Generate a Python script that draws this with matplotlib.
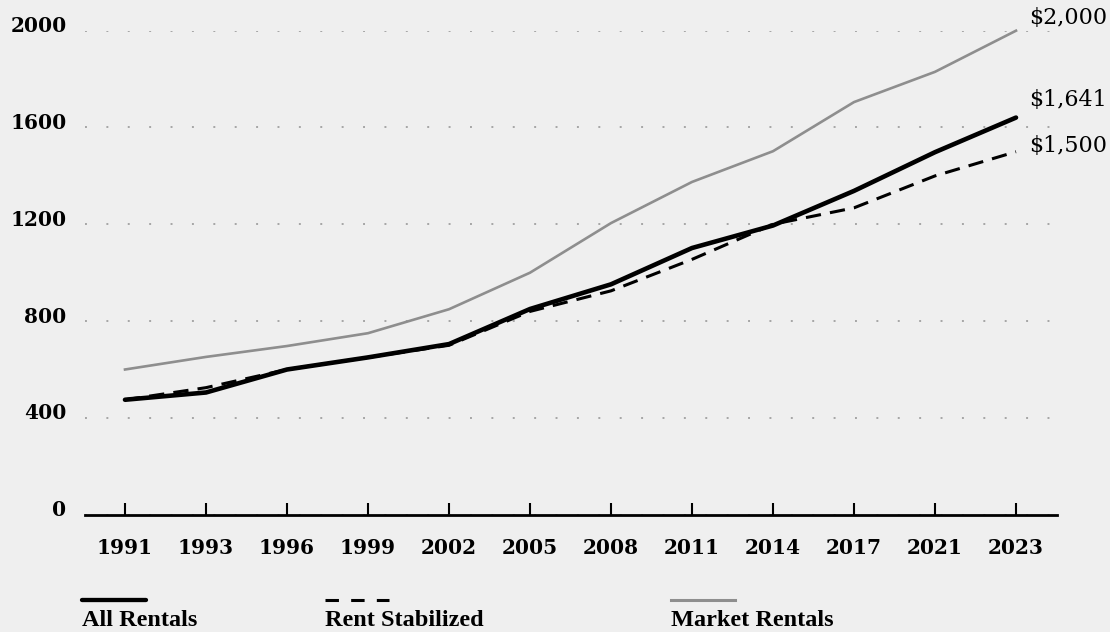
import numpy as np
import matplotlib.pyplot as plt
from matplotlib.lines import Line2D
from matplotlib.transforms import ScaledTranslation

years = ["1991", "1993", "1996", "1999", "2002", "2005", "2008", "2011", "2014", "2017", "2021", "2023"]
all_rentals = [475, 505, 600, 650, 705, 850, 952, 1102, 1195, 1338, 1498, 1641]
rent_stabilized = [475, 525, 600, 650, 700, 840, 925, 1055, 1200, 1268, 1400, 1500]
market_rentals = [600, 652, 697, 750, 849, 1000, 1205, 1375, 1502, 1705, 1830, 2000]
yticks = [0, 400, 800, 1200, 1600, 2000]

bg = "#efefef"
grey = "#8e8e8e"
W, H = 1110, 632

fig = plt.figure(figsize=(W / 100, H / 100), dpi=100, facecolor=bg)
ax = fig.add_axes([84.5 / W, (H - 514.7) / H, (1056.5 - 84.5) / W, (514.7 - 30.7) / H])
ax.set_facecolor(bg)

x = np.arange(len(years))
ax.plot(x, market_rentals, color=grey, lw=1.9, clip_on=False, zorder=3)
ax.plot(x, all_rentals, color="black", lw=3.3, solid_capstyle="round",
        solid_joinstyle="round", clip_on=False, zorder=4)
ax.plot(x, rent_stabilized, color="black", lw=2.2, dashes=(5, 3), clip_on=False, zorder=5)

ax.set_xlim(-0.5, 11.5)
ax.set_ylim(0, 2000)
ax.set_xticks(x)
ax.set_xticklabels(years)
ax.set_yticks(yticks)
ax.set_yticklabels([str(v) for v in yticks])

for s in ["top", "right", "left"]:
    ax.spines[s].set_visible(False)
ax.spines["bottom"].set_linewidth(2)

ax.tick_params(axis="x", direction="in", length=8.6, width=1.5, pad=17)
ax.tick_params(axis="y", length=0, pad=13)
for lab in ax.get_xticklabels() + ax.get_yticklabels():
    lab.set_fontfamily("DejaVu Serif")
    lab.set_fontweight("bold")
    lab.set_fontsize(14.5)
# y labels sit a little above their gridlines
for lab in ax.get_yticklabels():
    lab.set_transform(lab.get_transform() + ScaledTranslation(0, 6.5 / 100, fig.dpi_scale_trans))

ax.yaxis.grid(True, linestyle=(0, (1, 10)), color="#a6a6a6", lw=1.4)
ax.set_axisbelow(True)

# end-of-line value labels
last = len(years) - 1
for vals, dy in [(market_rentals, 9), (all_rentals, 13), (rent_stabilized, 4)]:
    ax.annotate(f"${vals[-1]:,}", (last, vals[-1]), xytext=(9.5, dy), textcoords="offset points",
                va="center", ha="left", fontsize=16, family="DejaVu Serif", annotation_clip=False)

# legend: short line sample above each label
legend_items = [
    ("All Rentals", 81.5, dict(color="black", lw=3.1, solid_capstyle="round")),
    ("Rent Stabilized", 325, dict(color="black", lw=2.2, dashes=(4.4, 4))),
    ("Market Rentals", 671, dict(color=grey, lw=2.2)),
]
for name, x0, style in legend_items:
    fig.add_artist(Line2D([x0 / W, (x0 + 64) / W], [1 - 599.5 / H, 1 - 599.5 / H],
                          transform=fig.transFigure, **style))
    fig.text(x0 / W, 1 - 631 / H, name, ha="left", va="bottom", fontsize=17.5,
             family="Liberation Serif", fontweight="bold")

fig.savefig("out.png", dpi=100, facecolor=bg)
